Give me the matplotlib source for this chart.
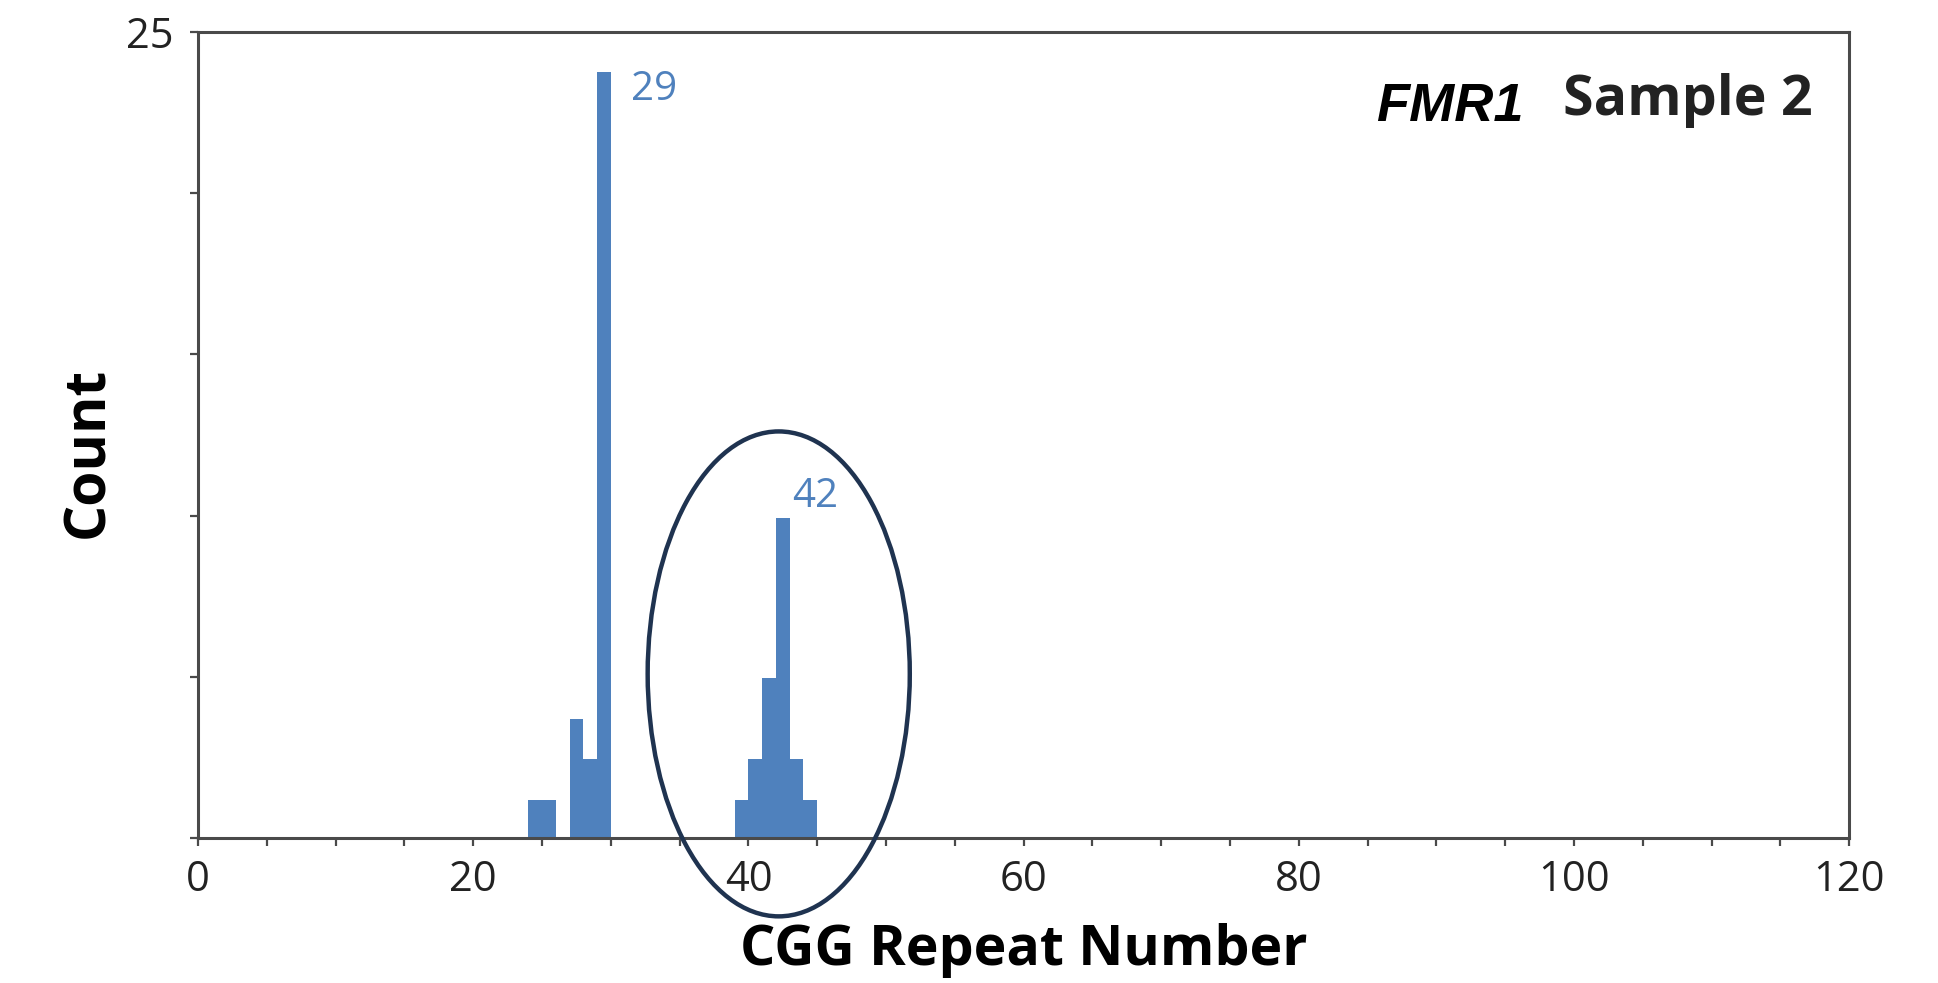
import matplotlib
matplotlib.use("Agg")
import matplotlib.pyplot as plt
from matplotlib.patches import Ellipse

# CGG repeat bins (left edge, width 1) and their counts
repeat_bins = [24, 25, 27, 28, 29, 39, 40, 41, 42, 43, 44]
counts = [1.18, 1.18, 3.69, 2.45, 23.76, 1.18, 2.44, 4.95, 9.94, 2.44, 1.18]

# annotated peaks: repeat number and label offset from bar top
peak_labels = [29, 42]
peak_dx = [1.5, 0.2]
peak_dy = [-0.55, 0.65]

x_ticks = [0, 20, 40, 60, 80, 100, 120]
y_ticks = [0, 5, 10, 15, 20, 25]
y_ticklabels = ['', '', '', '', '', '25']

# circled allele: centre (repeat, count) and size in data units
circle_center = (42.2, 5.09)
circle_size = (19.05, 15.04)

bar_color = '#4f81bd'
spine_color = '#4a4a4a'
tick_font = 'Open Sans'
label_font = 'Open Sans'

fig = plt.figure(figsize=(19.38, 9.83), dpi=100)
ax = fig.add_axes([0.1022, 0.1475, 0.852, 0.82])

ax.bar(repeat_bins, counts, width=1.0, align='edge', color=bar_color, linewidth=0)

for peak, dx, dy in zip(peak_labels, peak_dx, peak_dy):
    h = counts[repeat_bins.index(peak)]
    ax.text(peak + 1 + dx, h + dy, str(peak), color=bar_color, fontsize=29,
            family=tick_font, ha='left', va='center')

ell = Ellipse(circle_center, circle_size[0], circle_size[1], fill=False,
              edgecolor='#1f3350', linewidth=3.2, clip_on=False, zorder=5)
ax.add_patch(ell)

ax.set_xlim(0, 120)
ax.set_ylim(0, 25)
ax.set_xticks(x_ticks)
ax.set_xticks(range(0, 121, 5), minor=True)
ax.set_yticks(y_ticks)
ax.set_yticklabels(y_ticklabels)

for s in ax.spines.values():
    s.set_color(spine_color)
    s.set_linewidth(2.2)

ax.tick_params(axis='both', which='both', direction='out', length=6, width=1.6,
               color=spine_color)
ax.tick_params(axis='x', which='major', labelsize=30, pad=9, labelcolor='#222222')
ax.tick_params(axis='y', which='major', labelsize=30, pad=12, labelcolor='#222222')
for lab in ax.get_xticklabels() + ax.get_yticklabels():
    lab.set_family(tick_font)

ax.set_xlabel('CGG Repeat Number', fontsize=40, fontweight='bold', family=label_font)
ax.xaxis.set_label_coords(0.5, -0.106)
ax.set_ylabel('Count', fontsize=41, fontweight='bold', family=label_font)
ax.yaxis.set_label_coords(-0.049, 0.478)

ax.text(0.9776, 0.897, 'Sample 2', transform=ax.transAxes, fontsize=40,
        fontweight='bold', family=label_font, ha='right', va='baseline', color='#222222')
ax.text(0.8025, 0.889, 'FMR1', transform=ax.transAxes, fontsize=39,
        fontweight='bold', style='italic', family='Liberation Sans', ha='right',
        va='baseline', color='black')

fig.savefig('out.png', dpi=100)
